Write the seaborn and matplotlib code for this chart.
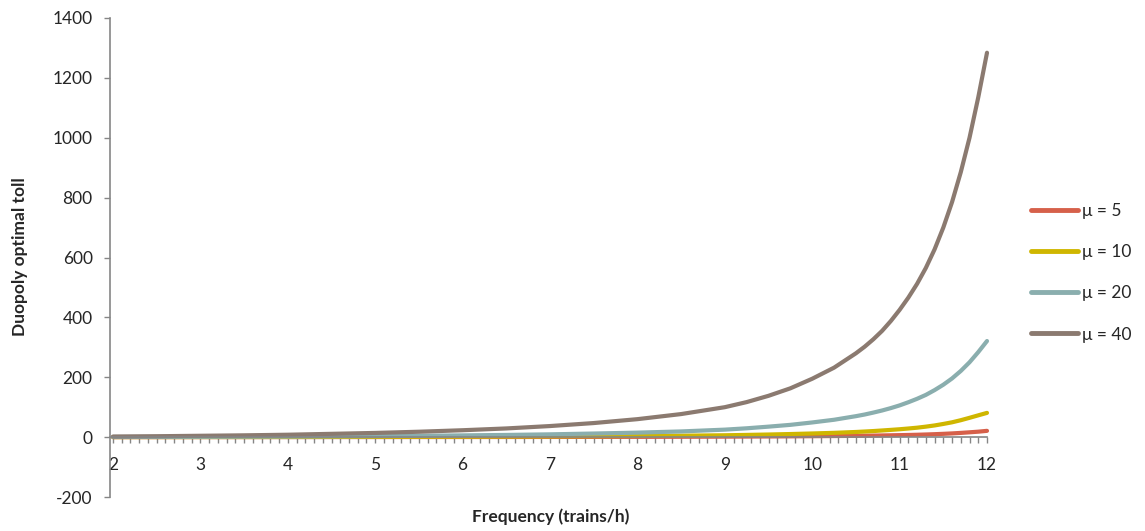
import matplotlib
matplotlib.use("Agg")
import matplotlib.pyplot as plt
from matplotlib.ticker import MultipleLocator, FixedLocator
import seaborn as sns
import pandas as pd

# ---- data ----
freq = [2, 2.5, 3, 3.5, 4, 4.5, 5, 5.5, 6, 6.5, 7, 7.5, 8, 8.5,
        9, 9.25, 9.5, 9.75, 10, 10.25, 10.5,
        10.6, 10.7, 10.8, 10.9, 11, 11.1, 11.2, 11.3, 11.4, 11.5, 11.6, 11.7, 11.8, 11.9, 12]
mu5 = [0, 0.05, 0.1, 0.1, 0.15, 0.2, 0.25, 0.3, 0.35, 0.45, 0.6, 0.75, 0.95, 1.2,
       1.6, 1.9, 2.2, 2.6, 3.1, 3.6, 4.3,
       4.7, 5.1, 5.6, 6.1, 6.6, 7.2, 7.9, 8.8, 9.8, 11, 12.4, 14.1, 16.1, 18.2, 21]
mu10 = [0.1, 0.2, 0.3, 0.4, 0.5, 0.7, 0.9, 1.1, 1.4, 1.8, 2.3, 3, 3.8, 4.8,
        6.2, 7.4, 8.7, 10.3, 12.2, 14.3, 17.2,
        18.7, 20.3, 22.2, 24.2, 26.3, 28.8, 31.5, 35, 39, 44, 49.5, 56.5, 64.5, 72.8, 81]
mu20 = [0.5, 0.8, 1.1, 1.5, 2, 2.7, 3.5, 4.5, 5.8, 7.3, 9.3, 12, 15, 19,
        25, 29.5, 35, 41, 49, 58, 70,
        75.5, 82, 89, 97, 106, 116.5, 128, 141, 157, 175, 196, 221, 250, 284, 321]
mu40 = [2, 3, 4.5, 6, 8, 11, 14, 18, 23, 29, 37, 47, 60, 77,
        100, 117, 138, 163, 195, 232, 280,
        302, 327, 355, 388, 425, 466, 512, 565, 627, 700, 785, 885, 1000, 1135, 1284]
series_labels = ["\u03bc = 5", "\u03bc = 10", "\u03bc = 20", "\u03bc = 40"]
x_ticks = [2, 3, 4, 5, 6, 7, 8, 9, 10, 11, 12]
y_ticks = [-200, 0, 200, 400, 600, 800, 1000, 1200, 1400]
colors = ["#D6604A", "#CFB600", "#8AAEAE", "#8B7A70"]

rows = []
for lab, vals in zip(series_labels, [mu5, mu10, mu20, mu40]):
    for f, v in zip(freq, vals):
        rows.append({"freq": f, "toll": v, "series": lab})
df = pd.DataFrame(rows)

sns.set_style("white")
plt.rcParams["font.family"] = ["Lato", "DejaVu Sans"]

W, H = 1145, 531
fig = plt.figure(figsize=(W / 100, H / 100), dpi=100)
left, right, top, bottom = 110, 987, 18, 497
ax = fig.add_axes([left / W, 1 - bottom / H, (right - left) / W, (bottom - top) / H])

sns.lineplot(data=df, x="freq", y="toll", hue="series", hue_order=series_labels,
             palette=colors, linewidth=3.0, ax=ax, legend=True)
for ln in ax.get_lines():
    ln.set_solid_capstyle("round")
    ln.set_solid_joinstyle("round")
    ln.set_clip_on(False)

ax.set_xlim(2 - 3 / 87.4, 12)
ax.set_ylim(-200, 1400)

gray = "#868686"
for s in ["top", "right"]:
    ax.spines[s].set_visible(False)
ax.spines["bottom"].set_position(("data", 0))
ax.spines["bottom"].set_color(gray)
ax.spines["left"].set_color(gray)
ax.spines["bottom"].set_linewidth(1.2)
ax.spines["left"].set_linewidth(1.2)

ax.xaxis.set_major_locator(FixedLocator(x_ticks))
ax.xaxis.set_minor_locator(MultipleLocator(0.1))
ax.set_xticklabels([str(t) for t in x_ticks])
ax.yaxis.set_major_locator(FixedLocator(y_ticks))
ax.set_yticklabels([str(t) for t in y_ticks])
ax.tick_params(axis="x", which="both", direction="out", length=4, width=1, color=gray,
               bottom=True, labelsize=12.5, pad=10)
ax.tick_params(axis="y", which="both", direction="out", length=4.5, width=1, color=gray,
               left=True, labelsize=12.5, pad=8)
ax.grid(False)
ax.set_xlabel("")
ax.set_ylabel("")

fig.text(551 / W, 1 - 517 / H, "Frequency (trains/h)", ha="center", va="center",
         fontsize=12.5, fontweight="bold")
fig.text(20 / W, 1 - 257 / H, "Duopoly optimal toll", ha="center", va="center",
         rotation=90, fontsize=12.5, fontweight="bold")

old = ax.get_legend()
handles = old.legend_handles
labels = [t.get_text() for t in old.get_texts()]
old.remove()
for h, c in zip(handles, colors):
    h.set_linewidth(3.5)
    h.set_color(c)
    h.set_solid_capstyle("round")
leg = fig.legend(handles, labels, loc="upper left", bbox_to_anchor=(1031 / W, 1 - 203 / H),
                 frameon=False, fontsize=12.5, handlelength=2.7, handletextpad=0.25,
                 labelspacing=1.45, borderaxespad=0, borderpad=0)

fig.savefig("out.png", dpi=100)
